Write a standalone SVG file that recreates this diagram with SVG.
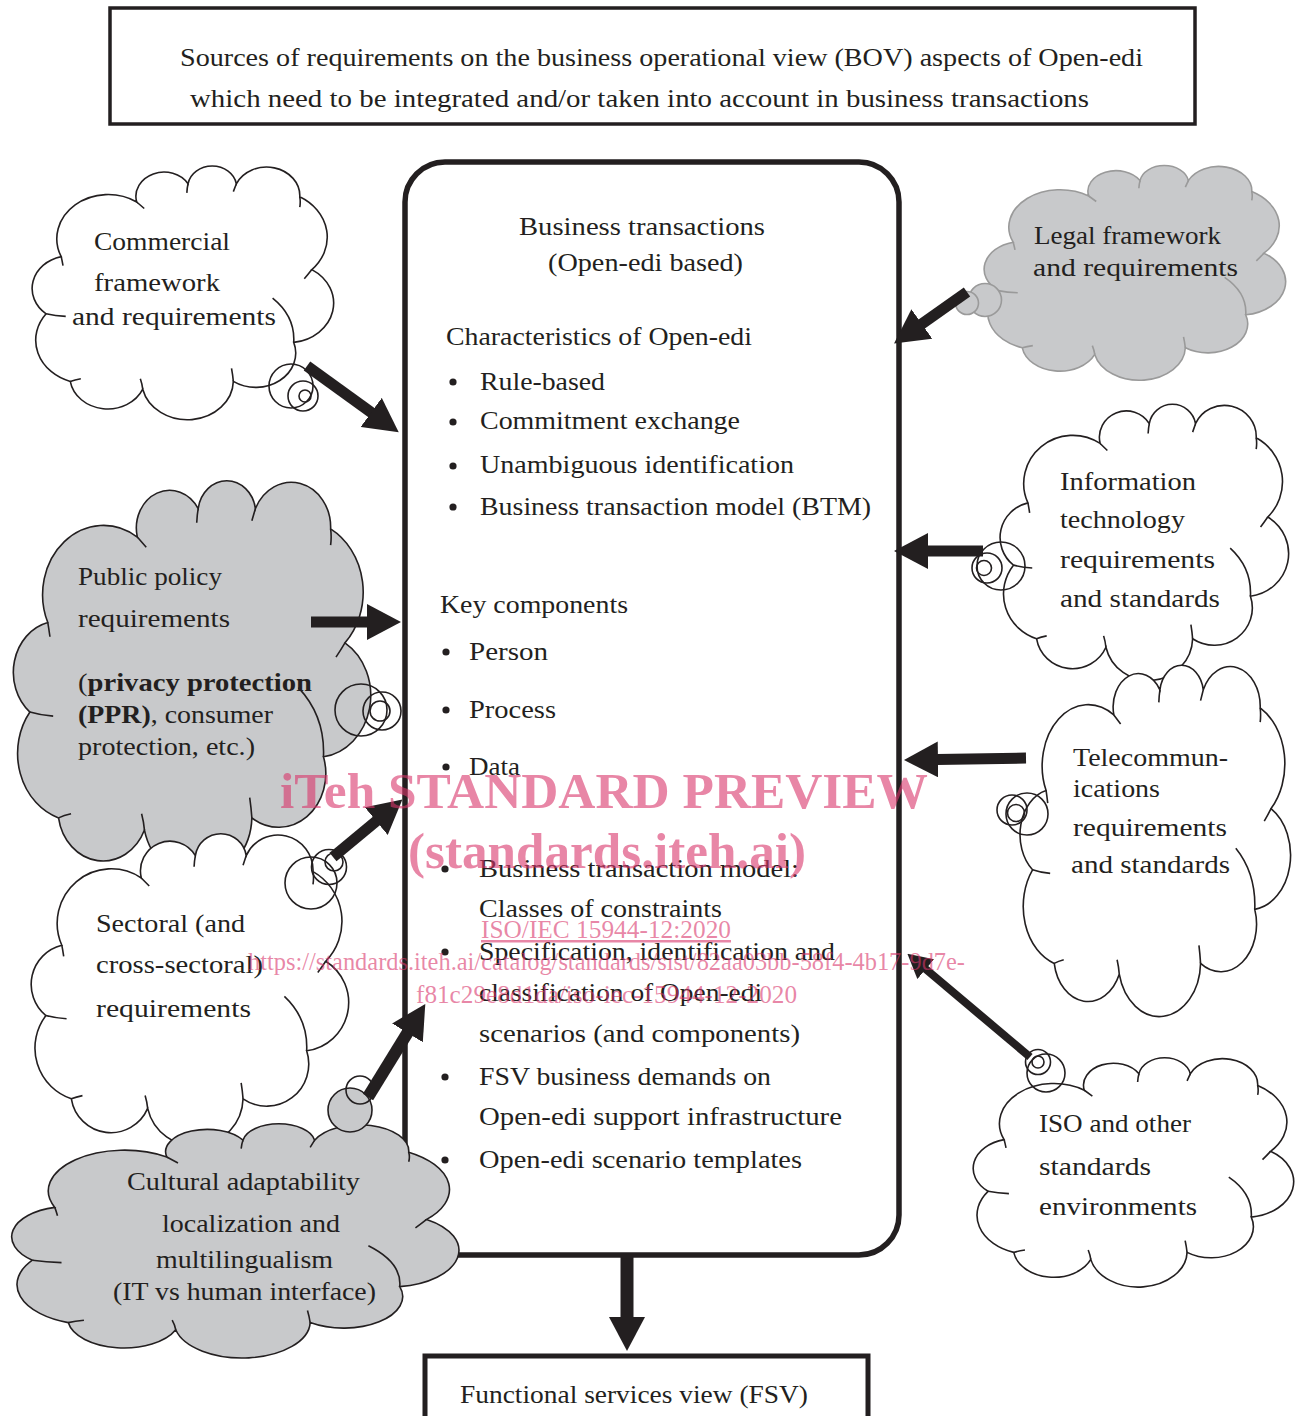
<svg xmlns="http://www.w3.org/2000/svg" width="1301" height="1416" viewBox="0 0 1301 1416">
<style>
.t{font-family:"Liberation Serif","Times New Roman",serif;font-size:25px;fill:#231f20}
.b{font-weight:bold}
.wm{font-family:"Liberation Serif","Times New Roman",serif;fill:#d9356b;fill-opacity:0.6}
.box{fill:#fff;stroke:#231f20}
.cw{fill:#fff;stroke:#231f20}
.cg{fill:#c8c9cb;stroke:#231f20}
.cl{fill:#c8c9cb;stroke:#9a9a9a}
.bub{fill:none;stroke:#231f20;stroke-width:1.6}
.bubg{fill:#c8c9cb;stroke:#9a9a9a;stroke-width:1.6}
.bubc{fill:#c8c9cb;stroke:#231f20;stroke-width:1.6}
</style>
<defs>
<path id="cloud" vector-effect="non-scaling-stroke" stroke-width="1.6" d="M10,36 A17,17 0 0 1 35,15 A9.3,9.3 0 0 1 52,8 A8.1,8.1 0 0 1 68,8 A11,11 0 0 1 89,13 A17.8,17.8 0 0 1 93,41 A15.2,15.2 0 0 1 87,69 A13.2,13.2 0 0 1 67,84 A15.2,15.2 0 0 1 37,87 A12.6,12.6 0 0 1 13,84 A16.7,16.7 0 0 1 5,58 A12.6,12.6 0 0 1 10,36 Z"/>
<path id="hooks" vector-effect="non-scaling-stroke" stroke-width="1.6" fill="none" d="M10,36 Q10.3,37.5 10.6,39.5 M35,15 Q36,16 37.5,17.5 M52,8 Q51.7,9.5 51.6,11.5 M68,8 Q67.5,9.5 67,11 M89,13 Q89.3,15 89,17 M93,41 Q91.8,42.8 90.5,44.5 M87,69 Q87.5,59 80,52 M67,84 Q66.8,81.5 66.4,79 M37,87 Q36.8,85 36.2,83 M13,84 Q14.5,83.4 16.5,83 M5,58 Q8,58.8 11.5,59"/>
<marker id="ah" markerUnits="userSpaceOnUse" markerWidth="34" markerHeight="36" viewBox="0 0 34 36" refX="1" refY="18" orient="auto"><path d="M0,0 L34,18 L0,36 Z" fill="#231f20"/></marker>
<marker id="ahs" markerUnits="userSpaceOnUse" markerWidth="24" markerHeight="26" viewBox="0 0 24 26" refX="1" refY="13" orient="auto"><path d="M0,0 L24,13 L0,26 Z" fill="#231f20"/></marker>
</defs>
<rect width="1301" height="1416" fill="#fff"/>

<g id="header">
<rect class="box" x="110" y="8" width="1085" height="116" stroke-width="3.5"/>
<text class="t" x="180" y="66" textLength="963" lengthAdjust="spacingAndGlyphs">Sources of requirements on the business operational view (BOV) aspects of Open-edi</text>
<text class="t" x="190" y="107" textLength="899" lengthAdjust="spacingAndGlyphs">which need to be integrated and/or taken into account in business transactions</text>
</g>

<g id="main">
<rect class="box" x="405" y="162" width="494" height="1093" rx="40" stroke-width="5.5"/>
<text class="t" x="519" y="235" textLength="246" lengthAdjust="spacingAndGlyphs">Business transactions</text>
<text class="t" x="548" y="271" textLength="195" lengthAdjust="spacingAndGlyphs">(Open-edi based)</text>
<text class="t" x="446" y="345" textLength="306" lengthAdjust="spacingAndGlyphs">Characteristics of Open-edi</text>
<g fill="#231f20">
<circle cx="453" cy="382" r="3.6"/><circle cx="453" cy="422" r="3.6"/><circle cx="453" cy="466" r="3.6"/><circle cx="453" cy="507" r="3.6"/>
<circle cx="446" cy="652" r="3.6"/><circle cx="446" cy="710" r="3.6"/><circle cx="446" cy="767" r="3.6"/>
<circle cx="445" cy="869" r="3.6"/><circle cx="445" cy="952" r="3.6"/><circle cx="445" cy="1077" r="3.6"/><circle cx="445" cy="1160" r="3.6"/>
</g>
<text class="t" x="480" y="390" textLength="125" lengthAdjust="spacingAndGlyphs">Rule-based</text>
<text class="t" x="480" y="429" textLength="260" lengthAdjust="spacingAndGlyphs">Commitment exchange</text>
<text class="t" x="480" y="473" textLength="314" lengthAdjust="spacingAndGlyphs">Unambiguous identification</text>
<text class="t" x="480" y="515" textLength="391" lengthAdjust="spacingAndGlyphs">Business transaction model (BTM)</text>
<text class="t" x="440" y="613" textLength="188" lengthAdjust="spacingAndGlyphs">Key components</text>
<text class="t" x="469" y="660" textLength="79" lengthAdjust="spacingAndGlyphs">Person</text>
<text class="t" x="469" y="718" textLength="87" lengthAdjust="spacingAndGlyphs">Process</text>
<text class="t" x="469" y="775" textLength="51" lengthAdjust="spacingAndGlyphs">Data</text>
<text class="t" x="479" y="877" textLength="320" lengthAdjust="spacingAndGlyphs">Business transaction model:</text>
<text class="t" x="479" y="917" textLength="243" lengthAdjust="spacingAndGlyphs">Classes of constraints</text>
<text class="t" x="479" y="960" textLength="356" lengthAdjust="spacingAndGlyphs">Specification, identification and</text>
<text class="t" x="479" y="1001" textLength="283" lengthAdjust="spacingAndGlyphs">classification of Open-edi</text>
<text class="t" x="479" y="1042" textLength="321" lengthAdjust="spacingAndGlyphs">scenarios (and components)</text>
<text class="t" x="479" y="1085" textLength="292" lengthAdjust="spacingAndGlyphs">FSV business demands on</text>
<text class="t" x="479" y="1125" textLength="363" lengthAdjust="spacingAndGlyphs">Open-edi support infrastructure</text>
<text class="t" x="479" y="1168" textLength="323" lengthAdjust="spacingAndGlyphs">Open-edi scenario templates</text>
</g>

<g id="fsv">
<rect class="box" x="425" y="1356" width="443" height="70" stroke-width="5"/>
<text class="t" x="460" y="1403" textLength="348" lengthAdjust="spacingAndGlyphs">Functional services view (FSV)</text>
</g>

<g id="commercial">
<g transform="translate(31,163) scale(3.02,2.6)"><use href="#cloud" class="cw"/><use href="#hooks" stroke="#231f20"/></g>
<circle class="bub" cx="291" cy="386" r="22"/><circle class="bub" cx="303" cy="396" r="15"/><circle class="bub" cx="305" cy="396" r="6"/>
<text class="t" x="94" y="250" textLength="136" lengthAdjust="spacingAndGlyphs">Commercial</text>
<text class="t" x="94" y="291" textLength="126" lengthAdjust="spacingAndGlyphs">framework</text>
<text class="t" x="72" y="325" textLength="204" lengthAdjust="spacingAndGlyphs">and requirements</text>
</g>

<g id="legal">
<g transform="translate(983,163) scale(3.02,2.2)"><use href="#cloud" class="cl"/><use href="#hooks" stroke="#9a9a9a"/></g>
<circle class="bubg" cx="985" cy="300" r="16.5"/><circle class="bubg" cx="967" cy="303" r="11.5"/>
<text class="t" x="1034" y="244" textLength="187" lengthAdjust="spacingAndGlyphs">Legal framework</text>
<text class="t" x="1033" y="276" textLength="205" lengthAdjust="spacingAndGlyphs">and requirements</text>
</g>

<g id="public">
<g transform="translate(12,476) scale(3.58,4.07)"><use href="#cloud" class="cg"/><use href="#hooks" stroke="#231f20"/></g>
<circle class="bub" cx="361" cy="710" r="26"/><circle class="bub" cx="382" cy="711" r="19"/><circle class="bub" cx="380" cy="711" r="10"/>
<text class="t" x="78" y="585" textLength="144" lengthAdjust="spacingAndGlyphs">Public policy</text>
<text class="t" x="78" y="627" textLength="152" lengthAdjust="spacingAndGlyphs">requirements</text>
<text class="t" x="78" y="691" textLength="234" lengthAdjust="spacingAndGlyphs">(<tspan class="b">privacy protection</tspan></text>
<text class="t" x="78" y="723" textLength="195" lengthAdjust="spacingAndGlyphs"><tspan class="b">(PPR)</tspan>, consumer</text>
<text class="t" x="78" y="755" textLength="177" lengthAdjust="spacingAndGlyphs">protection, etc.)</text>
</g>

<g id="it">
<g transform="translate(999,401) scale(2.89,2.83)"><use href="#cloud" class="cw"/><use href="#hooks" stroke="#231f20"/></g>
<circle class="bub" cx="1001" cy="566" r="24"/><circle class="bub" cx="987" cy="568" r="15"/><circle class="bub" cx="984" cy="568" r="7.5"/>
<text class="t" x="1060" y="490" textLength="136" lengthAdjust="spacingAndGlyphs">Information</text>
<text class="t" x="1060" y="528" textLength="125" lengthAdjust="spacingAndGlyphs">technology</text>
<text class="t" x="1060" y="568" textLength="155" lengthAdjust="spacingAndGlyphs">requirements</text>
<text class="t" x="1060" y="607" textLength="160" lengthAdjust="spacingAndGlyphs">and standards</text>
</g>

<g id="telecom">
<g transform="translate(1019,661) scale(2.71,3.6)"><use href="#cloud" class="cw"/><use href="#hooks" stroke="#231f20"/></g>
<circle class="bub" cx="1027" cy="814" r="21"/><circle class="bub" cx="1012" cy="810" r="15"/><circle class="bub" cx="1016" cy="813" r="8.5"/>
<text class="t" x="1073" y="766" textLength="155" lengthAdjust="spacingAndGlyphs">Telecommun-</text>
<text class="t" x="1073" y="797" textLength="87" lengthAdjust="spacingAndGlyphs">ications</text>
<text class="t" x="1073" y="836" textLength="154" lengthAdjust="spacingAndGlyphs">requirements</text>
<text class="t" x="1071" y="873" textLength="159" lengthAdjust="spacingAndGlyphs">and standards</text>
</g>

<g id="sectoral">
<g transform="translate(30,830) scale(3.18,3.2)"><use href="#cloud" class="cw"/><use href="#hooks" stroke="#231f20"/></g>
<circle class="bub" cx="311" cy="883" r="26"/><circle class="bub" cx="329" cy="867" r="17.5"/><circle class="bub" cx="334" cy="862" r="9"/>
<text class="t" x="96" y="932" textLength="149" lengthAdjust="spacingAndGlyphs">Sectoral (and</text>
<text class="t" x="96" y="973" textLength="167" lengthAdjust="spacingAndGlyphs">cross-sectoral)</text>
<text class="t" x="96" y="1017" textLength="155" lengthAdjust="spacingAndGlyphs">requirements</text>
</g>

<g id="cultural">
<g transform="translate(10,1121) scale(4.48,2.4)"><use href="#cloud" class="cg"/><use href="#hooks" stroke="#231f20"/></g>
<circle class="bubc" cx="350" cy="1110" r="22"/><circle class="bub" cx="360" cy="1090" r="14"/>
<text class="t" x="127" y="1190" textLength="233" lengthAdjust="spacingAndGlyphs">Cultural adaptability</text>
<text class="t" x="162" y="1232" textLength="178" lengthAdjust="spacingAndGlyphs">localization and</text>
<text class="t" x="156" y="1268" textLength="177" lengthAdjust="spacingAndGlyphs">multilingualism</text>
<text class="t" x="113" y="1300" textLength="263" lengthAdjust="spacingAndGlyphs">(IT vs human interface)</text>
</g>

<g id="iso">
<g transform="translate(972,1055) scale(3.21,2.35)"><use href="#cloud" class="cw"/><use href="#hooks" stroke="#231f20"/></g>
<circle class="bub" cx="1046" cy="1073" r="19"/><circle class="bub" cx="1038" cy="1062" r="12.5"/><circle class="bub" cx="1038" cy="1062" r="6"/>
<text class="t" x="1039" y="1132" textLength="152" lengthAdjust="spacingAndGlyphs">ISO and other</text>
<text class="t" x="1039" y="1175" textLength="112" lengthAdjust="spacingAndGlyphs">standards</text>
<text class="t" x="1039" y="1215" textLength="158" lengthAdjust="spacingAndGlyphs">environments</text>
</g>

<g id="connectors" stroke="#231f20" fill="none" stroke-width="11">
<line x1="307" y1="366" x2="372" y2="413" marker-end="url(#ah)"/>
<line x1="967" y1="292" x2="921" y2="324.5" marker-end="url(#ah)"/>
<line x1="311" y1="622" x2="368" y2="622" marker-end="url(#ah)"/>
<line x1="983" y1="551" x2="927" y2="551" marker-end="url(#ah)"/>
<line x1="1026" y1="758" x2="937" y2="759.5" marker-end="url(#ah)"/>
<line x1="333" y1="857" x2="377" y2="820.5" marker-end="url(#ah)"/>
<line x1="368" y1="1097" x2="408" y2="1032" stroke-width="12" marker-end="url(#ah)"/>
<line x1="1030" y1="1057" x2="925" y2="968.5" stroke-width="8" marker-end="url(#ahs)"/>
<line x1="627" y1="1257" x2="627" y2="1318" stroke-width="13" marker-end="url(#ah)"/>
</g>

<g id="watermark">
<text class="wm b" x="280" y="808" font-size="51" textLength="648" lengthAdjust="spacingAndGlyphs">iTeh STANDARD PREVIEW</text>
<text class="wm b" x="408" y="868" font-size="51" textLength="398" lengthAdjust="spacingAndGlyphs">(standards.iteh.ai)</text>
<text class="wm" x="481" y="938" font-size="25" textLength="250" lengthAdjust="spacingAndGlyphs" text-decoration="underline">ISO/IEC 15944-12:2020</text>
<text class="wm" x="248" y="970" font-size="25" textLength="717" lengthAdjust="spacingAndGlyphs">https://standards.iteh.ai/catalog/standards/sist/82aa03bb-58f4-4b17-9d7e-</text>
<text class="wm" x="416" y="1003" font-size="25" textLength="381" lengthAdjust="spacingAndGlyphs">f81c29e8d1da/iso-iec-15944-12-2020</text>
</g>
</svg>
